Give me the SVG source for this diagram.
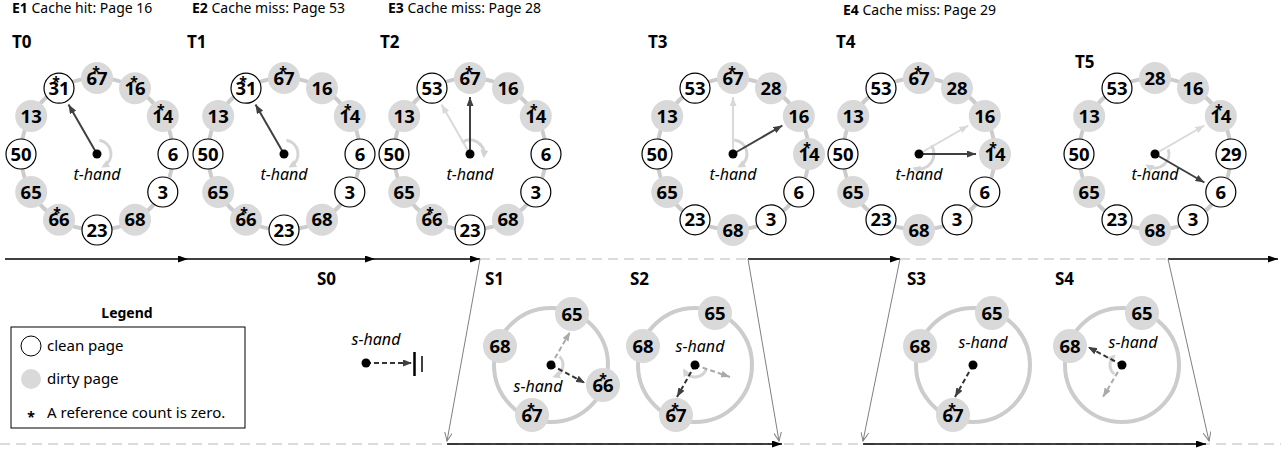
<svg xmlns="http://www.w3.org/2000/svg" width="1281" height="450" viewBox="0 0 1281 450">
<style>
text{font-family:"Noto Sans","DejaVu Sans",sans-serif;fill:#000}
.ring{fill:none;stroke:#cccccc;stroke-width:4}
.clean{fill:#fff;stroke:#000;stroke-width:1.2}
.dirty{fill:#d9d9d9}
.num{font-weight:bold;font-size:18.5px;text-anchor:middle}
.star{font-weight:bold;font-size:14px;text-anchor:middle}
.lbl{font-weight:bold;font-size:17px}
.ev{font-size:14px}
.ev tspan.b{font-weight:bold}
.th{font-style:italic;font-size:16px;text-anchor:middle}
.hand{stroke:#404040;stroke-width:2;marker-end:url(#aDark)}
.old{stroke:#d9d9d9;stroke-width:2;marker-end:url(#aLight)}
.shand{stroke:#333;stroke-width:2;stroke-dasharray:5 3;marker-end:url(#aDark)}
.sold{stroke:#aaaaaa;stroke-width:2;stroke-dasharray:5 3;marker-end:url(#aGrayS)}
.rot{fill:none;stroke:#d4d4d4;stroke-width:3;marker-end:url(#aRot)}
.dot{fill:#000}
.tl{stroke:#000;stroke-width:1.3;fill:none;marker-end:url(#aBlack)}
.dash{stroke:#d0d0d0;stroke-width:1.5;stroke-dasharray:10 6;fill:none}
.side{stroke:#808080;stroke-width:1;fill:none;marker-end:url(#aOpen)}
.leg{font-size:15px}
</style>
<defs>
<marker id="aDark" markerUnits="userSpaceOnUse" markerWidth="9" markerHeight="7" refX="9" refY="3.5" orient="auto"><path d="M0,0 L9,3.5 L0,7 z" fill="#404040"/></marker>
<marker id="aLight" markerUnits="userSpaceOnUse" markerWidth="9" markerHeight="7" refX="9" refY="3.5" orient="auto"><path d="M0,0 L9,3.5 L0,7 z" fill="#d9d9d9"/></marker>
<marker id="aGrayS" markerUnits="userSpaceOnUse" markerWidth="9" markerHeight="7" refX="9" refY="3.5" orient="auto"><path d="M0,0 L9,3.5 L0,7 z" fill="#aaaaaa"/></marker>
<marker id="aRot" markerUnits="userSpaceOnUse" markerWidth="8" markerHeight="8" refX="5" refY="4" orient="auto"><path d="M0,0 L8,4 L0,8 z" fill="#d4d4d4"/></marker>
<marker id="aBlack" markerUnits="userSpaceOnUse" markerWidth="10" markerHeight="7" refX="10" refY="3.5" orient="auto"><path d="M0,0 L10,3.5 L0,7 z" fill="#000"/></marker>
<marker id="aOpen" markerUnits="userSpaceOnUse" markerWidth="10" markerHeight="8" refX="9" refY="4" orient="auto"><path d="M0,0 L9,4 L0,8" fill="none" stroke="#808080" stroke-width="1"/></marker>
</defs>

<g id="events">
<text class="ev" x="12" y="13"><tspan class="b">E1</tspan> Cache hit: Page 16</text>
<text class="ev" x="192" y="13"><tspan class="b">E2</tspan> Cache miss: Page 53</text>
<text class="ev" x="388" y="13"><tspan class="b">E3</tspan> Cache miss: Page 28</text>
<text class="ev" x="843" y="15"><tspan class="b">E4</tspan> Cache miss: Page 29</text>
</g>

<g id="labels">
<text class="lbl" x="12" y="48">T0</text>
<text class="lbl" x="187" y="48">T1</text>
<text class="lbl" x="380" y="48">T2</text>
<text class="lbl" x="648" y="48">T3</text>
<text class="lbl" x="836" y="48">T4</text>
<text class="lbl" x="1075" y="68">T5</text>
<text class="lbl" x="317" y="285">S0</text>
<text class="lbl" x="485" y="285">S1</text>
<text class="lbl" x="630" y="285">S2</text>
<text class="lbl" x="907" y="285">S3</text>
<text class="lbl" x="1055" y="285">S4</text>
</g>

<!-- T0 -->
<g id="T0" transform="translate(97,154)">
<circle class="ring" r="76"/>
<g id="T0-67" transform="translate(0,-76)"><circle class="dirty" r="16"/><text class="num" y="6.5">67</text><text class="star" x="-1" y="-1.5">*</text></g>
<g id="T0-16" transform="translate(38,-65.8)"><circle class="dirty" r="16"/><text class="num" y="6.5">16</text><text class="star" x="-1" y="-1.5">*</text></g>
<g id="T0-14" transform="translate(65.8,-38)"><circle class="dirty" r="16"/><text class="num" y="6.5">14</text><text class="star" x="-2" y="-1.5">*</text></g>
<g id="T0-6" transform="translate(76,0)"><circle class="clean" r="15"/><text class="num" y="6.5">6</text></g>
<g id="T0-3" transform="translate(65.8,38)"><circle class="clean" r="15"/><text class="num" y="6.5">3</text></g>
<g id="T0-68" transform="translate(38,65.8)"><circle class="dirty" r="16"/><text class="num" y="6.5">68</text></g>
<g id="T0-23" transform="translate(0,76)"><circle class="clean" r="15"/><text class="num" y="6.5">23</text></g>
<g id="T0-66" transform="translate(-38,65.8)"><circle class="dirty" r="16"/><text class="num" y="6.5">66</text><text class="star" x="-2" y="-1.5">*</text></g>
<g id="T0-65" transform="translate(-65.8,38)"><circle class="dirty" r="16"/><text class="num" y="6.5">65</text></g>
<g id="T0-50" transform="translate(-76,0)"><circle class="clean" r="15"/><text class="num" y="6.5">50</text></g>
<g id="T0-13" transform="translate(-65.8,-38)"><circle class="dirty" r="16"/><text class="num" y="6.5">13</text></g>
<g id="T0-31" transform="translate(-38,-65.8)"><circle class="clean" r="15"/><text class="num" y="6.5">31</text><text class="star" x="-3" y="-1.5">*</text></g>
<path class="rot" d="M2.43,-13.79 A14,14 0 0 1 7,12.12"/>
<line class="hand" x1="0" y1="0" x2="-28.5" y2="-49.4"/>
<circle class="dot" r="4.5"/>
<text class="th" y="26">t-hand</text>
</g>

<!-- T1 -->
<g id="T1" transform="translate(284,154)">
<circle class="ring" r="76"/>
<g id="T1-67" transform="translate(0,-76)"><circle class="dirty" r="16"/><text class="num" y="6.5">67</text><text class="star" x="-1" y="-1.5">*</text></g>
<g id="T1-16" transform="translate(38,-65.8)"><circle class="dirty" r="16"/><text class="num" y="6.5">16</text></g>
<g id="T1-14" transform="translate(65.8,-38)"><circle class="dirty" r="16"/><text class="num" y="6.5">14</text><text class="star" x="-2" y="-1.5">*</text></g>
<g id="T1-6" transform="translate(76,0)"><circle class="clean" r="15"/><text class="num" y="6.5">6</text></g>
<g id="T1-3" transform="translate(65.8,38)"><circle class="clean" r="15"/><text class="num" y="6.5">3</text></g>
<g id="T1-68" transform="translate(38,65.8)"><circle class="dirty" r="16"/><text class="num" y="6.5">68</text></g>
<g id="T1-23" transform="translate(0,76)"><circle class="clean" r="15"/><text class="num" y="6.5">23</text></g>
<g id="T1-66" transform="translate(-38,65.8)"><circle class="dirty" r="16"/><text class="num" y="6.5">66</text><text class="star" x="-2" y="-1.5">*</text></g>
<g id="T1-65" transform="translate(-65.8,38)"><circle class="dirty" r="16"/><text class="num" y="6.5">65</text></g>
<g id="T1-50" transform="translate(-76,0)"><circle class="clean" r="15"/><text class="num" y="6.5">50</text></g>
<g id="T1-13" transform="translate(-65.8,-38)"><circle class="dirty" r="16"/><text class="num" y="6.5">13</text></g>
<g id="T1-31" transform="translate(-38,-65.8)"><circle class="clean" r="15"/><text class="num" y="6.5">31</text><text class="star" x="-3" y="-1.5">*</text></g>
<path class="rot" d="M2.43,-13.79 A14,14 0 0 1 7,12.12"/>
<line class="hand" x1="0" y1="0" x2="-28.5" y2="-49.4"/>
<circle class="dot" r="4.5"/>
<text class="th" y="26">t-hand</text>
</g>

<!-- T2 -->
<g id="T2" transform="translate(470,154)">
<circle class="ring" r="76"/>
<g id="T2-67" transform="translate(0,-76)"><circle class="dirty" r="16"/><text class="num" y="6.5">67</text><text class="star" x="-1" y="-1.5">*</text></g>
<g id="T2-16" transform="translate(38,-65.8)"><circle class="dirty" r="16"/><text class="num" y="6.5">16</text></g>
<g id="T2-14" transform="translate(65.8,-38)"><circle class="dirty" r="16"/><text class="num" y="6.5">14</text><text class="star" x="-2" y="-1.5">*</text></g>
<g id="T2-6" transform="translate(76,0)"><circle class="clean" r="15"/><text class="num" y="6.5">6</text></g>
<g id="T2-3" transform="translate(65.8,38)"><circle class="clean" r="15"/><text class="num" y="6.5">3</text></g>
<g id="T2-68" transform="translate(38,65.8)"><circle class="dirty" r="16"/><text class="num" y="6.5">68</text></g>
<g id="T2-23" transform="translate(0,76)"><circle class="clean" r="15"/><text class="num" y="6.5">23</text></g>
<g id="T2-66" transform="translate(-38,65.8)"><circle class="dirty" r="16"/><text class="num" y="6.5">66</text><text class="star" x="-2" y="-1.5">*</text></g>
<g id="T2-65" transform="translate(-65.8,38)"><circle class="dirty" r="16"/><text class="num" y="6.5">65</text></g>
<g id="T2-50" transform="translate(-76,0)"><circle class="clean" r="15"/><text class="num" y="6.5">50</text></g>
<g id="T2-13" transform="translate(-65.8,-38)"><circle class="dirty" r="16"/><text class="num" y="6.5">13</text></g>
<g id="T2-53" transform="translate(-38,-65.8)"><circle class="clean" r="15"/><text class="num" y="6.5">53</text></g>
<path class="rot" d="M-8.03,-11.47 A14,14 0 0 1 13.95,1.22"/>
<line class="old" x1="0" y1="0" x2="-28.5" y2="-49.4"/>
<line class="hand" x1="0" y1="0" x2="0" y2="-57"/>
<circle class="dot" r="4.5"/>
<text class="th" y="26">t-hand</text>
</g>

<!-- T3 -->
<g id="T3" transform="translate(733,154)">
<circle class="ring" r="76"/>
<g id="T3-67" transform="translate(0,-76)"><circle class="dirty" r="16"/><text class="num" y="6.5">67</text><text class="star" x="-1" y="-1.5">*</text></g>
<g id="T3-28" transform="translate(38,-65.8)"><circle class="dirty" r="16"/><text class="num" y="6.5">28</text></g>
<g id="T3-16" transform="translate(65.8,-38)"><circle class="dirty" r="16"/><text class="num" y="6.5">16</text></g>
<g id="T3-14" transform="translate(76,0)"><circle class="dirty" r="16"/><text class="num" y="6.5">14</text><text class="star" x="-2" y="-1.5">*</text></g>
<g id="T3-6" transform="translate(65.8,38)"><circle class="clean" r="15"/><text class="num" y="6.5">6</text></g>
<g id="T3-3" transform="translate(38,65.8)"><circle class="clean" r="15"/><text class="num" y="6.5">3</text></g>
<g id="T3-68" transform="translate(0,76)"><circle class="dirty" r="16"/><text class="num" y="6.5">68</text></g>
<g id="T3-23" transform="translate(-38,65.8)"><circle class="clean" r="15"/><text class="num" y="6.5">23</text></g>
<g id="T3-65" transform="translate(-65.8,38)"><circle class="dirty" r="16"/><text class="num" y="6.5">65</text></g>
<g id="T3-50" transform="translate(-76,0)"><circle class="clean" r="15"/><text class="num" y="6.5">50</text></g>
<g id="T3-13" transform="translate(-65.8,-38)"><circle class="dirty" r="16"/><text class="num" y="6.5">13</text></g>
<g id="T3-53" transform="translate(-38,-65.8)"><circle class="clean" r="15"/><text class="num" y="6.5">53</text></g>
<path class="rot" d="M1.22,-13.95 A14,14 0 0 1 7,12.12"/>
<line class="old" x1="0" y1="0" x2="0" y2="-57"/>
<line class="hand" x1="0" y1="0" x2="49.4" y2="-28.5"/>
<circle class="dot" r="4.5"/>
<text class="th" y="26">t-hand</text>
</g>

<!-- T4 -->
<g id="T4" transform="translate(919,154)">
<circle class="ring" r="76"/>
<g id="T4-67" transform="translate(0,-76)"><circle class="dirty" r="16"/><text class="num" y="6.5">67</text><text class="star" x="-1" y="-1.5">*</text></g>
<g id="T4-28" transform="translate(38,-65.8)"><circle class="dirty" r="16"/><text class="num" y="6.5">28</text></g>
<g id="T4-16" transform="translate(65.8,-38)"><circle class="dirty" r="16"/><text class="num" y="6.5">16</text></g>
<g id="T4-14" transform="translate(76,0)"><circle class="dirty" r="16"/><text class="num" y="6.5">14</text><text class="star" x="-2" y="-1.5">*</text></g>
<g id="T4-6" transform="translate(65.8,38)"><circle class="clean" r="15"/><text class="num" y="6.5">6</text></g>
<g id="T4-3" transform="translate(38,65.8)"><circle class="clean" r="15"/><text class="num" y="6.5">3</text></g>
<g id="T4-68" transform="translate(0,76)"><circle class="dirty" r="16"/><text class="num" y="6.5">68</text></g>
<g id="T4-23" transform="translate(-38,65.8)"><circle class="clean" r="15"/><text class="num" y="6.5">23</text></g>
<g id="T4-65" transform="translate(-65.8,38)"><circle class="dirty" r="16"/><text class="num" y="6.5">65</text></g>
<g id="T4-50" transform="translate(-76,0)"><circle class="clean" r="15"/><text class="num" y="6.5">50</text></g>
<g id="T4-13" transform="translate(-65.8,-38)"><circle class="dirty" r="16"/><text class="num" y="6.5">13</text></g>
<g id="T4-53" transform="translate(-38,-65.8)"><circle class="clean" r="15"/><text class="num" y="6.5">53</text></g>
<path class="rot" d="M12.29,-8.6 A15,15 0 0 1 -3.88,14.49"/>
<line class="old" x1="0" y1="0" x2="49.4" y2="-28.5"/>
<line class="hand" x1="0" y1="0" x2="57" y2="0"/>
<circle class="dot" r="4.5"/>
<text class="th" y="26">t-hand</text>
</g>

<!-- T5 -->
<g id="T5" transform="translate(1155,154)">
<circle class="ring" r="76"/>
<g id="T5-28" transform="translate(0,-76)"><circle class="dirty" r="16"/><text class="num" y="6.5">28</text></g>
<g id="T5-16" transform="translate(38,-65.8)"><circle class="dirty" r="16"/><text class="num" y="6.5">16</text></g>
<g id="T5-14" transform="translate(65.8,-38)"><circle class="dirty" r="16"/><text class="num" y="6.5">14</text><text class="star" x="-2" y="-1.5">*</text></g>
<g id="T5-29" transform="translate(76,0)"><circle class="clean" r="15"/><text class="num" y="6.5">29</text></g>
<g id="T5-6" transform="translate(65.8,38)"><circle class="clean" r="15"/><text class="num" y="6.5">6</text></g>
<g id="T5-3" transform="translate(38,65.8)"><circle class="clean" r="15"/><text class="num" y="6.5">3</text></g>
<g id="T5-68" transform="translate(0,76)"><circle class="dirty" r="16"/><text class="num" y="6.5">68</text></g>
<g id="T5-23" transform="translate(-38,65.8)"><circle class="clean" r="15"/><text class="num" y="6.5">23</text></g>
<g id="T5-65" transform="translate(-65.8,38)"><circle class="dirty" r="16"/><text class="num" y="6.5">65</text></g>
<g id="T5-50" transform="translate(-76,0)"><circle class="clean" r="15"/><text class="num" y="6.5">50</text></g>
<g id="T5-13" transform="translate(-65.8,-38)"><circle class="dirty" r="16"/><text class="num" y="6.5">13</text></g>
<g id="T5-53" transform="translate(-38,-65.8)"><circle class="clean" r="15"/><text class="num" y="6.5">53</text></g>
<path class="rot" d="M13.16,-4.79 A14,14 0 0 1 -7,12.12"/>
<line class="old" x1="0" y1="0" x2="49.4" y2="-28.5"/>
<line class="hand" x1="0" y1="0" x2="49.4" y2="28.5"/>
<circle class="dot" r="4.5"/>
<text class="th" y="26">t-hand</text>
</g>

<!-- connectors / timeline -->
<g id="connectors">
<line class="tl" x1="5" y1="259" x2="188" y2="259"/>
<line class="tl" x1="188" y1="259" x2="375" y2="259"/>
<line class="tl" x1="375" y1="259" x2="480" y2="259"/>
<line class="dash" x1="480" y1="259" x2="748" y2="259"/>
<line class="tl" x1="748" y1="259" x2="900" y2="259"/>
<line class="dash" x1="900" y1="259" x2="1168" y2="259"/>
<line class="tl" x1="1168" y1="259" x2="1278" y2="259"/>
<line class="dash" x1="0" y1="444" x2="1281" y2="444"/>
<line class="side" x1="480" y1="259" x2="447" y2="441"/>
<line class="side" x1="748" y1="259" x2="779" y2="441"/>
<line class="tl" x1="447" y1="444" x2="782" y2="444"/>
<line class="side" x1="900" y1="259" x2="863" y2="441"/>
<line class="side" x1="1168" y1="259" x2="1209" y2="441"/>
<line class="tl" x1="863" y1="444" x2="1206" y2="444"/>
</g>

<!-- Legend -->
<g id="legend">
<text x="127" y="318" text-anchor="middle" style="font-weight:bold;font-size:14px">Legend</text>
<rect x="11" y="327" width="234" height="101" fill="none" stroke="#000" stroke-width="1"/>
<circle cx="31" cy="346" r="10" fill="#fff" stroke="#000" stroke-width="1"/>
<text class="leg" x="47" y="351">clean page</text>
<circle cx="31" cy="379" r="10" fill="#d9d9d9"/>
<text class="leg" x="47" y="384">dirty page</text>
<text x="31" y="422" text-anchor="middle" style="font-weight:bold;font-size:14px">*</text>
<text class="leg" x="47" y="418">A reference count is zero.</text>
</g>

<!-- S0 -->
<g id="S0">
<text class="th" x="376" y="345">s-hand</text>
<line class="shand" x1="366" y1="363" x2="412" y2="363"/>
<circle class="dot" cx="366" cy="363" r="4.5"/>
<line x1="414.5" y1="352" x2="414.5" y2="376" stroke="#000" stroke-width="2.5"/>
<line x1="422" y1="356" x2="422" y2="372" stroke="#000" stroke-width="1.5"/>
</g>

<!-- S1 -->
<g id="S1" transform="translate(551,365)">
<circle class="ring" r="57"/>
<g id="S1-65" transform="translate(21,-51)"><circle class="dirty" r="17"/><text class="num" y="6.5">65</text></g>
<g id="S1-68" transform="translate(-51,-19)"><circle class="dirty" r="17"/><text class="num" y="6.5">68</text></g>
<g id="S1-66" transform="translate(52,20)"><circle class="dirty" r="17"/><text class="num" y="6.5">66</text><text class="star" x="0" y="-1.5">*</text></g>
<g id="S1-67" transform="translate(-19,50)"><circle class="dirty" r="17"/><text class="num" y="6.5">67</text><text class="star" x="-1" y="-1.5">*</text></g>
<path class="rot" d="M8.49,-8.49 A12,12 0 0 1 4.1,11.28"/>
<line class="sold" x1="0" y1="0" x2="19" y2="-33"/>
<line class="shand" x1="0" y1="0" x2="34" y2="18"/>
<circle class="dot" r="4.5"/>
<text class="th" x="-13" y="27">s-hand</text>
</g>

<!-- S2 -->
<g id="S2" transform="translate(695,365)">
<circle class="ring" r="57"/>
<g id="S2-65" transform="translate(20,-52)"><circle class="dirty" r="17"/><text class="num" y="6.5">65</text></g>
<g id="S2-68" transform="translate(-52,-19)"><circle class="dirty" r="17"/><text class="num" y="6.5">68</text></g>
<g id="S2-67" transform="translate(-19,50)"><circle class="dirty" r="17"/><text class="num" y="6.5">67</text><text class="star" x="-1" y="-1.5">*</text></g>
<path class="rot" d="M11.28,4.1 A12,12 0 0 1 -10.39,6"/>
<line class="sold" x1="0" y1="0" x2="35" y2="12"/>
<line class="shand" x1="0" y1="0" x2="-18" y2="32"/>
<circle class="dot" r="4.5"/>
<text class="th" x="5" y="-13">s-hand</text>
</g>

<!-- S3 -->
<g id="S3" transform="translate(973,365)">
<circle class="ring" r="57"/>
<g id="S3-65" transform="translate(19,-52)"><circle class="dirty" r="17"/><text class="num" y="6.5">65</text></g>
<g id="S3-68" transform="translate(-53,-19)"><circle class="dirty" r="17"/><text class="num" y="6.5">68</text></g>
<g id="S3-67" transform="translate(-20,50)"><circle class="dirty" r="17"/><text class="num" y="6.5">67</text><text class="star" x="-1" y="-1.5">*</text></g>
<line class="shand" x1="0" y1="0" x2="-18" y2="32"/>
<circle class="dot" r="4.5"/>
<text class="th" x="10" y="-17">s-hand</text>
</g>

<!-- S4 -->
<g id="S4" transform="translate(1122,365)">
<circle class="ring" r="57"/>
<g id="S4-65" transform="translate(20,-52)"><circle class="dirty" r="17"/><text class="num" y="6.5">65</text></g>
<g id="S4-68" transform="translate(-52,-19)"><circle class="dirty" r="17"/><text class="num" y="6.5">68</text></g>
<path class="rot" d="M-7.71,9.19 A12,12 0 0 1 -8.49,-8.49"/>
<line class="sold" x1="0" y1="0" x2="-19" y2="32"/>
<line class="shand" x1="0" y1="0" x2="-34" y2="-18"/>
<circle class="dot" r="4.5"/>
<text class="th" x="11" y="-17">s-hand</text>
</g>
</svg>
